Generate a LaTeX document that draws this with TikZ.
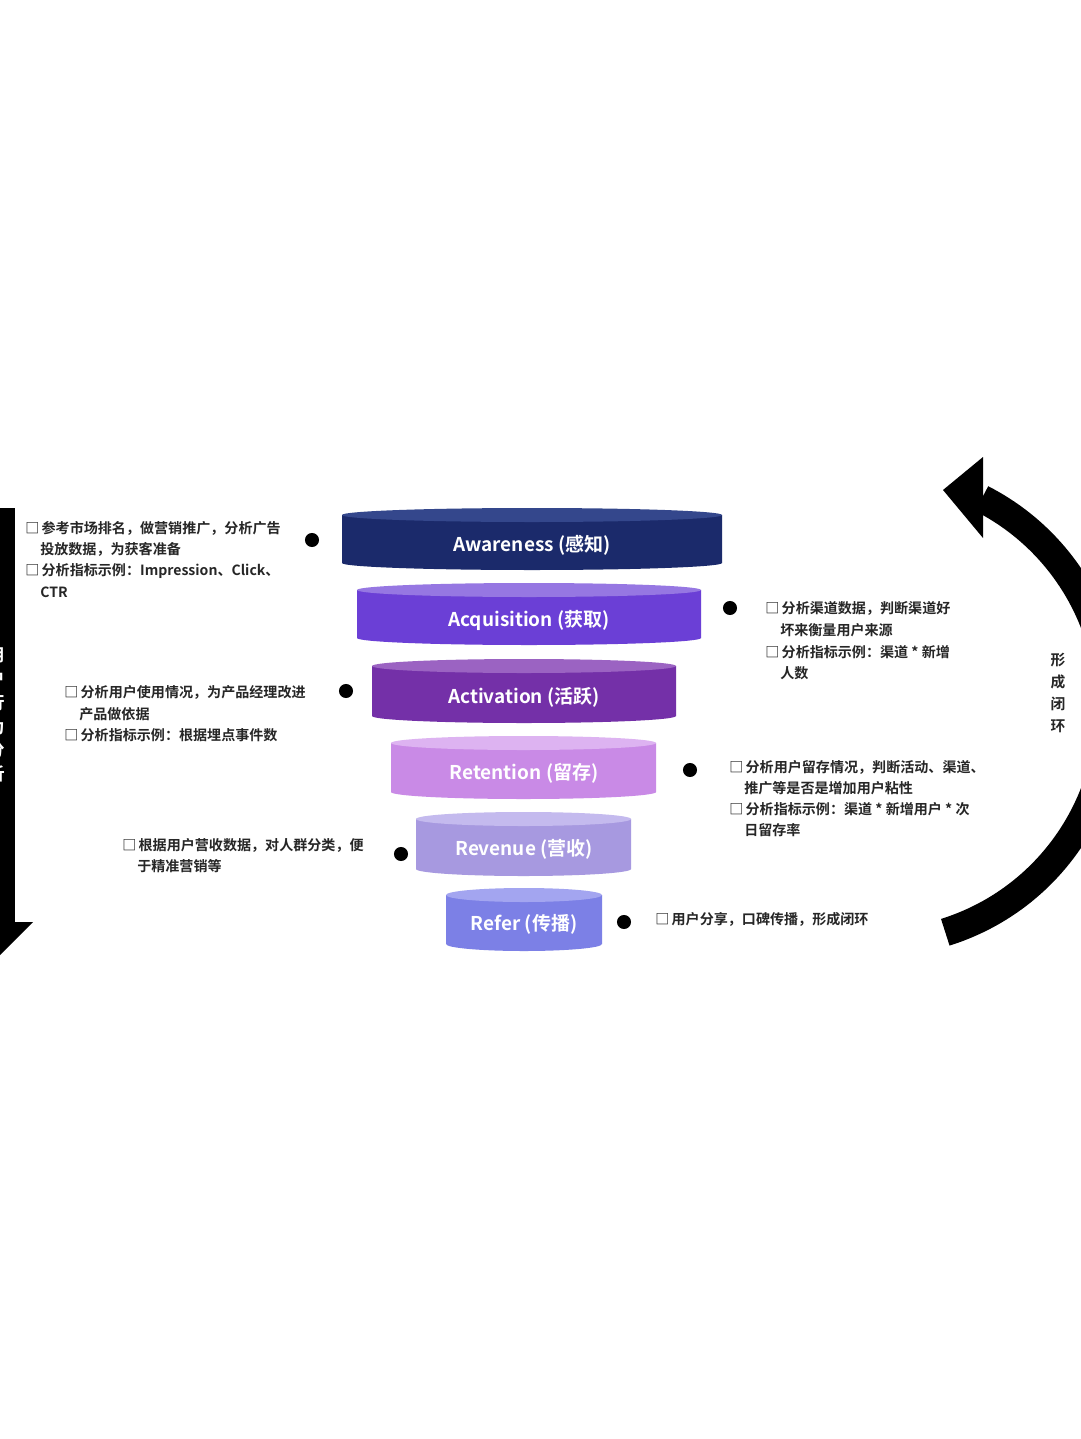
\documentclass[tikz,border=0pt]{standalone}
\usepackage{fontspec}
\setmainfont{Noto Sans CJK SC}[BoldFont={* Bold}]
\newfontfamily\cjkb{Noto Sans CJK SC Bold}
\definecolor{awb}{HTML}{1B2A6B}\definecolor{awt}{HTML}{34478C}
\definecolor{acb}{HTML}{6B3FD6}\definecolor{act}{HTML}{9677E2}
\definecolor{avb}{HTML}{7430A8}\definecolor{avt}{HTML}{9B63C2}
\definecolor{reb}{HTML}{C98AE6}\definecolor{ret}{HTML}{DDB3F1}
\definecolor{rvb}{HTML}{A799E0}\definecolor{rvt}{HTML}{C4BAEE}
\definecolor{rfb}{HTML}{7C80E6}\definecolor{rft}{HTML}{A3A5F0}
\definecolor{note}{HTML}{262626}
\newcommand{\tierdraw}[7]{%
  \fill[#5] (#1,#3) -- (#1,#4) arc[start angle=180,end angle=0,x radius={(#2-#1)/2},y radius=#7] -- (#2,#3) -- cycle;
  \fill[#6] ({(#1+#2)/2},#3) ellipse[x radius={(#2-#1)/2},y radius=#7];}
\tikzset{
  tierlabel/.style={text=white,font=\cjkb\fontsize{13.5pt}{16pt}\selectfont,inner sep=0},
  noteline/.style={anchor=west,text=note,font=\cjkb\fontsize{10pt}{12pt}\selectfont,inner sep=0},
  bullet/.style={circle,fill=black,inner sep=0,minimum size=10pt},
  sidetext/.style={align=center,inner sep=0}
}
\begin{document}
\begin{tikzpicture}[x=0.025cm,y=-0.025cm]
\useasboundingbox (0,0) rectangle (1080,1439);
\fill[white] (0,0) rectangle (1080,1439);

% funnel tiers
\tierdraw{342}{722}{515}{563}{awb}{awt}{7}
\tierdraw{357}{701}{590}{638}{acb}{act}{7}
\tierdraw{372}{676}{666}{716}{avb}{avt}{7}
\tierdraw{391}{656}{743}{792}{reb}{ret}{7}
\tierdraw{416}{631}{819}{869}{rvb}{rvt}{7}
\tierdraw{446}{602}{895}{944}{rfb}{rft}{7}

\node[tierlabel] (aw) at (532,545) {Awareness (感知)};
\node[tierlabel] (ac) at (529,620) {Acquisition (获取)};
\node[tierlabel] (av) at (524,697) {Activation (活跃)};
\node[tierlabel] (re) at (524,773) {Retention (留存)};
\node[tierlabel] (rv) at (524,849) {Revenue (营收)};
\node[tierlabel] (rf) at (524,924) {Refer (传播)};

% bullets
\node[bullet] (d1) at (312,540) {};
\node[bullet] (d2) at (730,608) {};
\node[bullet] (d3) at (346,691) {};
\node[bullet] (d4) at (690,770) {};
\node[bullet] (d5) at (401,854) {};
\node[bullet] (d6) at (624,922) {};

% notes
\node[noteline] (n1a) at (25,528) {□\,参考市场排名，做营销推广，分析广告};
\node[noteline] (n1b) at (40,549) {投放数据，为获客准备};
\node[noteline] (n1c) at (25,571) {□\,分析指标示例：Impression、Click、};
\node[noteline] (n1d) at (40,592) {CTR};

\node[noteline] (n2a) at (765,608) {□\,分析渠道数据，判断渠道好};
\node[noteline] (n2b) at (780,630) {坏来衡量用户来源};
\node[noteline] (n2c) at (765,652) {□\,分析指标示例：渠道 * 新增};
\node[noteline] (n2d) at (780,673) {人数};

\node[noteline] (n3a) at (64,692) {□\,分析用户使用情况，为产品经理改进};
\node[noteline] (n3b) at (79,714) {产品做依据};
\node[noteline] (n3c) at (64,735) {□\,分析指标示例：根据埋点事件数};

\node[noteline] (n4a) at (729,767) {□\,分析用户留存情况，判断活动、渠道、};
\node[noteline] (n4b) at (744,788) {推广等是否是增加用户粘性};
\node[noteline] (n4c) at (729,809) {□\,分析指标示例：渠道 * 新增用户 * 次};
\node[noteline] (n4d) at (744,830) {日留存率};

\node[noteline] (n5a) at (122,845) {□\,根据用户营收数据，对人群分类，便};
\node[noteline] (n5b) at (137,866) {于精准营销等};

\node[noteline] (n6a) at (655,919) {□\,用户分享，口碑传播，形成闭环};

% left downward arrow
\fill[black] (-40,508) rectangle (15,922);
\fill[black] (-60,922) -- (33,922) -- (-13,968) -- cycle;
\node[sidetext,text=white,font=\cjkb\fontsize{12.5pt}{17pt}\selectfont] (lt) at (-4,715) {用\\户\\行\\为\\分\\析};

% right loop arrow
\draw[black,line width=0.7cm] (875,708) ++(72.6:235) arc[start angle=72.6,end angle=-63,radius=235];
\fill[black] (943,490) -- (983,457) -- (983,538) -- cycle;
\node[sidetext,text=note,font=\cjkb\fontsize{10.5pt}{15.6pt}\selectfont] (loop) at (1058,693) {形\\成\\闭\\环};
\end{tikzpicture}
\end{document}
